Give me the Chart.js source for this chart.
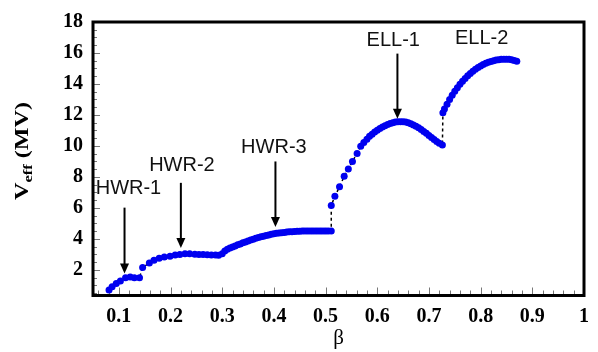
<!DOCTYPE html>
<html>
<head>
<meta charset="utf-8">
<script src="https://cdn.jsdelivr.net/npm/chart.js@4.4.0/dist/chart.umd.min.js"></script>
<style>
  html, body { margin: 0; padding: 0; background: #fff; }
  #c { display: block; }
</style>
</head>
<body>
<canvas id="c" width="598" height="352"></canvas>
<script>
// ---- data ----
const beta = [
  0.081, 0.087, 0.095, 0.103, 0.113, 0.122, 0.130, 0.140,
  0.146, 0.159, 0.168, 0.178, 0.188, 0.199, 0.209, 0.218, 0.228, 0.237, 0.247, 0.255, 0.263, 0.271, 0.279, 0.287, 0.293,
  0.300, 0.305, 0.310, 0.315, 0.320, 0.325, 0.330, 0.335, 0.340, 0.345, 0.350, 0.355, 0.360, 0.365, 0.370, 0.375,
  0.380, 0.385, 0.390, 0.395, 0.400, 0.405, 0.410, 0.415, 0.420, 0.425, 0.430, 0.435, 0.440, 0.445, 0.450, 0.455,
  0.460, 0.465, 0.470, 0.475, 0.480, 0.485, 0.490, 0.495, 0.500, 0.505, 0.511,
  0.511, 0.518, 0.527, 0.536, 0.544, 0.552, 0.561, 0.568, 0.574, 0.580, 0.585, 0.590, 0.595, 0.600, 0.605, 0.610,
  0.615, 0.620, 0.625, 0.630, 0.635, 0.640, 0.645, 0.650, 0.655, 0.660, 0.665, 0.670, 0.675, 0.680, 0.685, 0.690,
  0.695, 0.700, 0.705, 0.710, 0.715, 0.720, 0.726,
  0.727, 0.730, 0.735, 0.740, 0.745, 0.750, 0.755, 0.760, 0.765, 0.770, 0.775, 0.780, 0.785, 0.790, 0.795, 0.800,
  0.805, 0.810, 0.815, 0.820, 0.825, 0.830, 0.835, 0.840, 0.845, 0.850, 0.855, 0.860, 0.865, 0.870
];
const veff = [
  0.71, 0.92, 1.13, 1.29, 1.50, 1.54, 1.50, 1.50,
  2.16, 2.44, 2.63, 2.75, 2.83, 2.89, 2.96, 3.00, 3.04, 3.04, 3.02, 3.00, 3.00, 2.98, 2.96, 2.96, 2.94,
  3.05, 3.22, 3.33, 3.41, 3.48, 3.55, 3.62, 3.68, 3.75, 3.81, 3.87, 3.93, 3.98, 4.04, 4.09, 4.14,
  4.18, 4.22, 4.26, 4.30, 4.33, 4.36, 4.38, 4.40, 4.42, 4.44, 4.46, 4.47, 4.48, 4.49, 4.50, 4.51,
  4.51, 4.52, 4.52, 4.52, 4.52, 4.52, 4.52, 4.52, 4.52, 4.52, 4.52,
  6.16, 6.75, 7.37, 8.04, 8.52, 9.00, 9.52, 9.98, 10.22, 10.44, 10.62, 10.76, 10.90, 11.02, 11.13, 11.22,
  11.31, 11.39, 11.45, 11.50, 11.54, 11.56, 11.57, 11.56, 11.54, 11.50, 11.44, 11.36, 11.27, 11.17, 11.06, 10.94,
  10.82, 10.68, 10.55, 10.42, 10.29, 10.17, 10.06,
  12.15, 12.38, 12.70, 13.00, 13.28, 13.53, 13.76, 13.98, 14.18, 14.36, 14.53, 14.68, 14.82, 14.95, 15.06, 15.16,
  15.25, 15.33, 15.40, 15.45, 15.50, 15.54, 15.57, 15.59, 15.60, 15.60, 15.59, 15.56, 15.52, 15.47
];
const xTickValues = [0.1, 0.2, 0.3, 0.4, 0.5, 0.6, 0.7, 0.8, 0.9, 1.0];
const yTickValues = [2, 4, 6, 8, 10, 12, 14, 16, 18];
const cavityLabels = ['HWR-1', 'HWR-2', 'HWR-3', 'ELL-1', 'ELL-2'];
const labelBeta = [0.1186, 0.2221, 0.400, 0.631, 0.802];
const labelV = [7.27, 8.72, 9.87, 16.81, 16.91];
const arrowBeta = [0.111, 0.220, 0.403, 0.639];
const arrowTopV = [6.02, 7.62, 9.00, 15.96];
const arrowTipV = [1.77, 3.41, 4.77, 11.75];

const points = beta.map((b, i) => ({ x: b, y: veff[i] }));

const decor = {
  id: 'decor',
  beforeDatasetsDraw(chart) {
    const { ctx, chartArea: a, scales: { x, y } } = chart;
    ctx.save();
    ctx.strokeStyle = '#777';
    ctx.lineWidth = 1;
    ctx.beginPath();
    for (let k = 3; k <= 50; k++) {
      const v = k * 0.02;
      if (v < x.min - 1e-9 || v > x.max + 1e-9) continue;
      const px = Math.round(x.getPixelForValue(v)) + 0.5;
      const major = (k % 5 === 0);
      ctx.moveTo(px, a.bottom);
      ctx.lineTo(px, a.bottom - (major ? 8 : 5));
    }
    for (let k = 1; k <= 36; k++) {
      const v = k * 0.5;
      if (v < y.min || v > y.max) continue;
      const py = Math.round(y.getPixelForValue(v)) + 0.5;
      const major = (k % 4 === 0);
      ctx.moveTo(a.left, py);
      ctx.lineTo(a.left + (major ? 7 : 4), py);
    }
    ctx.stroke();
    ctx.restore();
  },
  afterDatasetsDraw(chart) {
    const { ctx, chartArea: a, scales: { x, y } } = chart;
    ctx.save();
    ctx.strokeStyle = '#000';
    ctx.lineWidth = 3;
    ctx.strokeRect(a.left, a.top, a.right - a.left, a.bottom - a.top);

    ctx.fillStyle = '#000';
    ctx.strokeStyle = '#000';
    arrowBeta.forEach((b, i) => {
      const px = x.getPixelForValue(b);
      const y0 = y.getPixelForValue(arrowTopV[i]);
      const y1 = y.getPixelForValue(arrowTipV[i]);
      ctx.lineWidth = 2;
      ctx.beginPath();
      ctx.moveTo(px, y0);
      ctx.lineTo(px, y1 - 8);
      ctx.stroke();
      ctx.beginPath();
      ctx.moveTo(px - 4.5, y1 - 10);
      ctx.lineTo(px + 4.5, y1 - 10);
      ctx.lineTo(px, y1);
      ctx.closePath();
      ctx.fill();
    });

    ctx.fillStyle = '#111';
    ctx.font = '20px "Liberation Sans", Arial, sans-serif';
    ctx.textAlign = 'center';
    ctx.textBaseline = 'middle';
    cavityLabels.forEach((t, i) => {
      ctx.fillText(t, x.getPixelForValue(labelBeta[i]), y.getPixelForValue(labelV[i]));
    });

    ctx.fillStyle = '#000';
    ctx.font = '21px "Liberation Serif", "Times New Roman", serif';
    ctx.fillText('β', (a.left + a.right) / 2, 338);

    ctx.translate(22, 151);
    ctx.rotate(-Math.PI / 2);
    const big = 'bold 19px "Liberation Serif", "Times New Roman", serif';
    const small = 'bold 13px "Liberation Serif", "Times New Roman", serif';
    ctx.font = big; const wV = ctx.measureText('V').width;
    const wP = ctx.measureText(' (MV)').width;
    ctx.font = small; const wE = ctx.measureText('eff').width;
    const total = wV + wE + wP;
    const sx = 98 / total;
    ctx.scale(sx, 1);
    let cx = -total / 2;
    ctx.textAlign = 'left';
    ctx.textBaseline = 'alphabetic';
    ctx.font = big; ctx.fillText('V', cx, 6); cx += wV;
    ctx.font = small; ctx.fillText('eff', cx, 10); cx += wE;
    ctx.font = big; ctx.fillText(' (MV)', cx, 6);
    ctx.restore();
  }
};

new Chart(document.getElementById('c'), {
  type: 'scatter',
  data: {
    datasets: [{
      data: points,
      showLine: true,
      borderColor: '#000',
      borderWidth: 1.5,
      borderDash: [3, 3],
      pointRadius: 3.5,
      pointHoverRadius: 3.5,
      pointBackgroundColor: '#0000f0',
      pointBorderColor: '#0000f0',
      pointBorderWidth: 0
    }]
  },
  options: {
    responsive: false,
    animation: false,
    layout: { padding: { top: 13, right: 10, left: 0, bottom: 0 } },
    plugins: { legend: { display: false }, tooltip: { enabled: false } },
    scales: {
      x: {
        type: 'linear', min: 0.05, max: 1,
        grid: { display: false, drawTicks: false },
        border: { display: false },
        afterBuildTicks: s => { s.ticks = xTickValues.map(v => ({ value: v })); },
        afterFit: s => { s.height = 56.5; },
        ticks: {
          padding: 9,
          color: '#000',
          maxRotation: 0,
          autoSkip: false,
          font: { family: '"Liberation Serif", "Times New Roman", serif', size: 20, weight: 'bold' },
          callback: v => (Math.abs(v - 1) < 1e-9 ? '1' : v.toFixed(1))
        }
      },
      y: {
        type: 'linear', min: 0.35, max: 18,
        grid: { display: false, drawTicks: false },
        border: { display: false },
        afterBuildTicks: s => { s.ticks = yTickValues.map(v => ({ value: v })); },
        afterFit: s => { s.width = 93; },
        ticks: {
          padding: 10,
          color: '#000',
          autoSkip: false,
          font: { family: '"Liberation Serif", "Times New Roman", serif', size: 20, weight: 'bold' },
          callback: v => String(v)
        }
      }
    }
  },
  plugins: [decor]
});
</script>
</body>
</html>
